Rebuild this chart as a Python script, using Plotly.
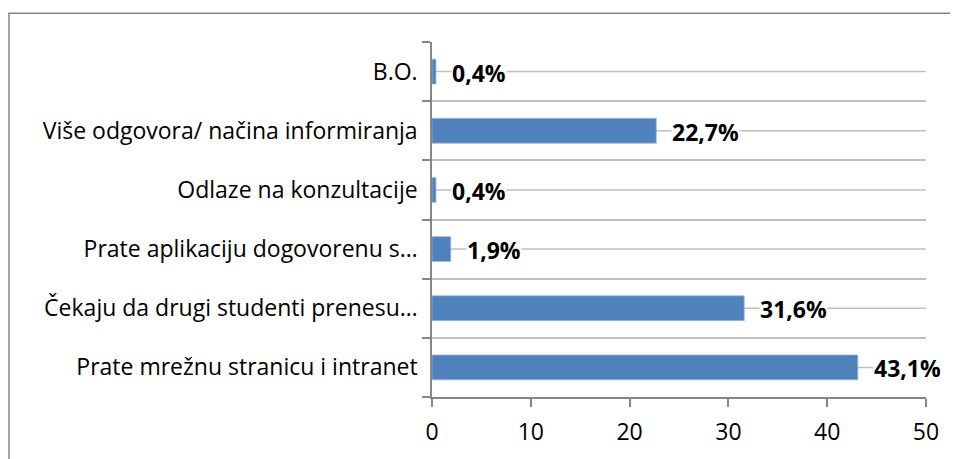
import plotly.graph_objects as go

categories = [
    "Prate mrežnu stranicu i intranet",
    "Čekaju da drugi studenti prenesu…",
    "Prate aplikaciju dogovorenu s…",
    "Odlaze na konzultacije",
    "Više odgovora/ načina informiranja",
    "B.O.",
]
values = [43.1, 31.6, 1.9, 0.4, 22.7, 0.4]
x_ticks = [0, 10, 20, 30, 40, 50]

labels = [f"{v:.1f}%".replace(".", ",") for v in values]

# page has an 8px body margin, so the figure is drawn 8px in from the window edge
OFF = 8
W, H = 958 - OFF, 459 - OFF
L, R, T, B = 432 - OFF, W - (926 - OFF), 42 - OFF, H - (400 - OFF)
pw, ph = W - L - R, H - T - B

FONT = "Open Sans"
AXIS_COLOR = "#868686"
GRID_COLOR = "#C0C0C0"

fig = go.Figure()
fig.add_trace(go.Bar(
    x=values, y=categories, orientation="h",
    marker=dict(color="#4F81BD", line=dict(color="#9DB9DC", width=0.8)),
    width=0.42, hoverinfo="skip",
))

shapes = []
for c in categories:
    shapes.append(dict(type="line", xref="x", yref="y", x0=0, x1=50, y0=c, y1=c,
                       line=dict(color=GRID_COLOR, width=1.5), layer="below"))

def px_x(p):
    return (p - OFF - L) / pw
def px_y(p):
    return (H - B - (p - OFF)) / ph
shapes.append(dict(type="rect", xref="paper", yref="paper",
                   x0=px_x(9), x1=px_x(952), y0=px_y(490), y1=px_y(13),
                   line=dict(color=AXIS_COLOR, width=1.5), fillcolor="rgba(0,0,0,0)", layer="below"))

annotations = []
for c, v, t in zip(categories, values, labels):
    annotations.append(dict(x=v, y=c, xref="x", yref="y", text=f"<b>{t}</b>",
                            showarrow=False, xanchor="left", xshift=15, yshift=-1,
                            bgcolor="white", borderpad=0,
                            font=dict(family=FONT, size=23, color="black")))

fig.update_layout(
    width=W, height=H,
    margin=dict(l=L, r=R, t=T, b=B, pad=0),
    paper_bgcolor="white", plot_bgcolor="white",
    showlegend=False,
    shapes=shapes,
    annotations=annotations,
    font=dict(family=FONT, size=23, color="black"),
    xaxis=dict(range=[0, 50], tickvals=x_ticks, showgrid=False, zeroline=False,
               showline=True, linecolor=AXIS_COLOR, linewidth=1.5,
               ticks="outside", ticklen=8, tickcolor=AXIS_COLOR, tickwidth=1.5,
               ticklabelstandoff=6,
               tickfont=dict(family=FONT, size=23, color="black"), fixedrange=True),
    yaxis=dict(type="category", categoryorder="array", categoryarray=categories,
               tickson="boundaries", showgrid=True, gridcolor=GRID_COLOR, gridwidth=1.5,
               showline=True, linecolor=AXIS_COLOR, linewidth=1.5,
               ticks="outside", ticklen=8, tickcolor=AXIS_COLOR, tickwidth=1.5,
               ticklabelstandoff=8,
               tickfont=dict(family=FONT, size=23, color="black"), fixedrange=True),
)

fig.write_html("out.html")
